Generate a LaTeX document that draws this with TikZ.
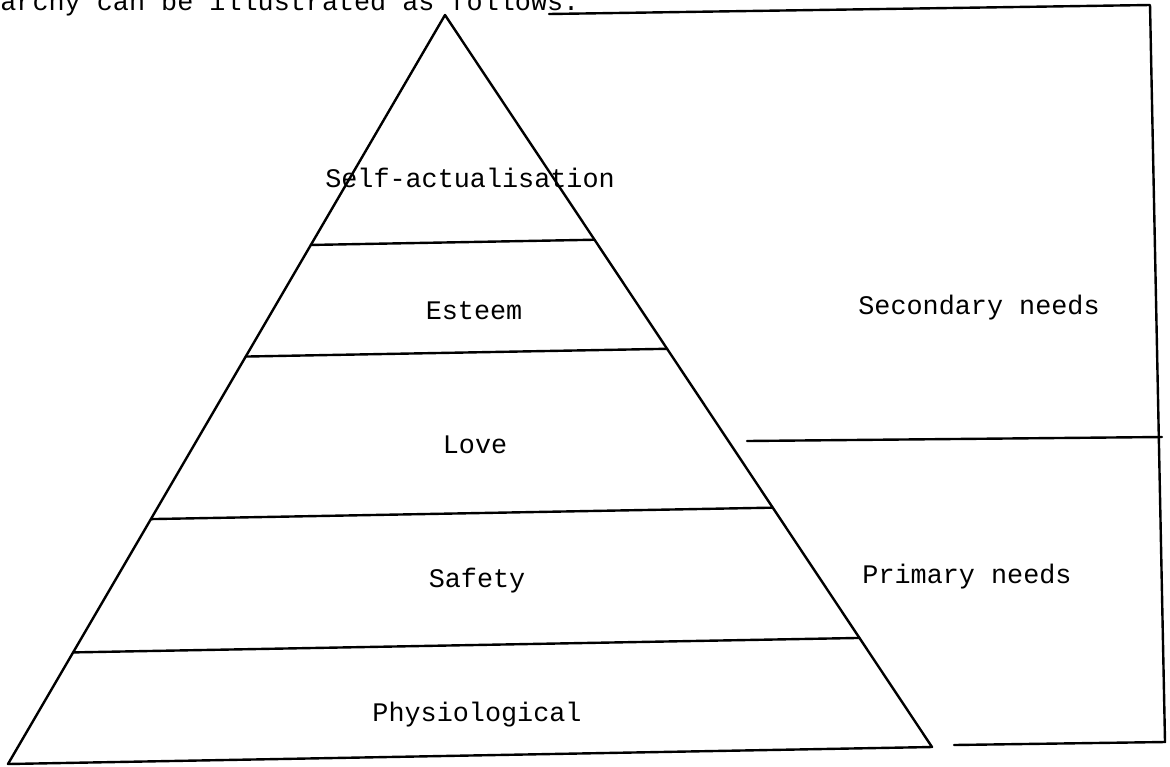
\documentclass[tikz,border=0pt]{standalone}
\usepackage{fontspec}
\setmonofont{Liberation Mono}
\usetikzlibrary{calc}
\begin{document}
\begin{tikzpicture}[x=0.5pt,y=-0.5pt,
  edge/.style={line width=1.2pt,line cap=round,line join=round},
  lbl/.style={font=\ttfamily\fontsize{13.4}{16}\selectfont,anchor=base,inner sep=0pt}]
\useasboundingbox (0,0) rectangle (1170,766);

% pyramid corners
\coordinate (apex) at (445,15);
\coordinate (bl) at (8,764);
\coordinate (br) at (932,747);

% running text above the figure
\node[lbl,anchor=base west] (caption) at (0,10) {archy can be illustrated as follows.};

% pyramid outline
\draw[edge] (apex) -- (bl) -- (br) -- cycle;

% tier boundaries
\foreach \t/\n in {0.307/a,0.456/b,0.673/c,0.851/d}{
  \coordinate (l\n) at ($(apex)!\t!(bl)$);
  \coordinate (r\n) at ($(apex)!\t!(br)$);
  \draw[edge] (l\n) -- (r\n);
}

% tier labels
\node[lbl] (selfact) at (470,187) {Self-actualisation};
\node[lbl] (esteem) at (474,319) {Esteem};
\node[lbl] (love) at (475,453) {Love};
\node[lbl] (safety) at (477,587) {Safety};
\node[lbl] (physio) at (477,721) {Physiological};

% bracket on the right
\coordinate (tl) at (549,14);
\coordinate (tr) at (1150,5);
\coordinate (ml) at (747,441);
\coordinate (mr) at (1162,437);
\coordinate (bbl) at (954,745);
\coordinate (bbr) at (1165,742);
\draw[edge] (tl) -- (tr) -- (bbr) -- (bbl);
\draw[edge] (ml) -- (mr);

\node[lbl] (secondary) at (979,314) {Secondary needs};
\node[lbl] (primary) at (967,583) {Primary needs};
\end{tikzpicture}
\end{document}
